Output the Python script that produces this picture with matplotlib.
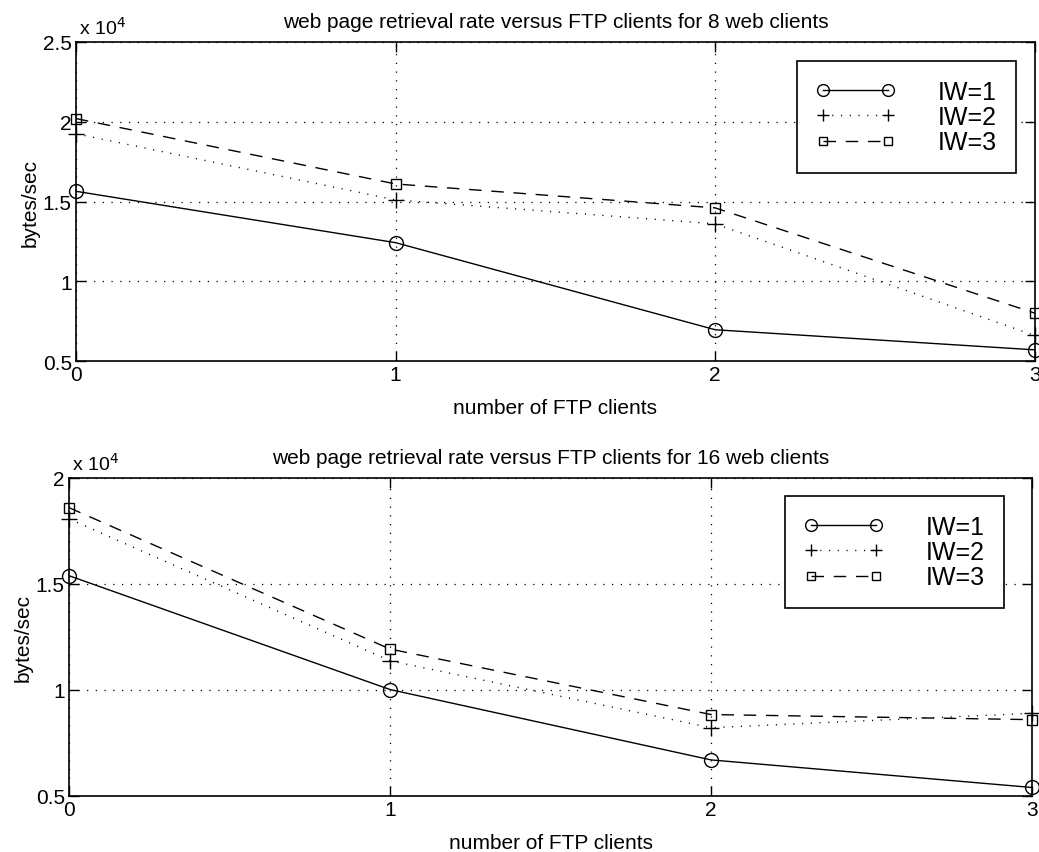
import matplotlib
matplotlib.use("Agg")
import matplotlib.pyplot as plt
import numpy as np

plt.rcParams["font.family"] = ["Liberation Sans", "DejaVu Sans"]

# web page retrieval rate (bytes/sec) for 0..3 FTP clients
ftp_clients = [0, 1, 2, 3]
iw_labels = ["IW=1", "IW=2", "IW=3"]

rate_8_web = {
    "IW=1": [15640, 12420, 6960, 5700],
    "IW=2": [19250, 15100, 13600, 6600],
    "IW=3": [20200, 16100, 14600, 8000],
}
rate_16_web = {
    "IW=1": [15390, 10020, 6700, 5400],
    "IW=2": [18070, 11380, 8220, 8900],
    "IW=3": [18600, 11930, 8840, 8600],
}

panel_titles = [
    "web page retrieval rate versus FTP clients for 8 web clients",
    "web page retrieval rate versus FTP clients for 16 web clients",
]
y_limits = [(0.5, 2.5), (0.5, 2.0)]
y_ticks = [[0.5, 1, 1.5, 2, 2.5], [0.5, 1, 1.5, 2]]
tick_text = {0.5: "0.5", 1: "1", 1.5: "1.5", 2: "2", 2.5: "2.5"}
scale = 1e4

styles = {
    "IW=1": dict(marker="o", ms=10, ls="-"),
    "IW=2": dict(marker="+", ms=11, ls=(0, (0.8, 5.5))),
    "IW=3": dict(marker="s", ms=7.5, ls=(0, (9, 7))),
}

fig = plt.figure(figsize=(10.39, 8.53), dpi=100)
axes_rects = [
    [0.0731, 0.5756, 0.9229, 0.3740],
    [0.0664, 0.0657, 0.9269, 0.3728],
]
legend_anchor = [(0.980, 0.940), (0.971, 0.943)]

for k, data in enumerate([rate_8_web, rate_16_web]):
    ax = fig.add_axes(axes_rects[k])
    for name in iw_labels:
        vals = np.asarray(data[name], dtype=float) / scale
        st = styles[name]
        ax.plot(ftp_clients, vals, color="black", lw=1.0, ls=st["ls"],
                marker=st["marker"], ms=st["ms"], mfc="none", mec="black",
                mew=1.0, label=name, clip_on=False, zorder=3)

    ax.set_xlim(0, 3)
    ax.set_ylim(*y_limits[k])
    ax.set_xticks(ftp_clients)
    ax.set_xticklabels([str(v) for v in ftp_clients])
    ax.set_yticks(y_ticks[k])
    ax.set_yticklabels([tick_text[v] for v in y_ticks[k]])
    ax.grid(True, color="black", ls=(0, (1, 6)), lw=0.9)
    ax.tick_params(direction="in", which="both", top=True, right=True,
                   length=7, width=1.0, labelsize=15, pad=3)
    for sp in ax.spines.values():
        sp.set_linewidth(1.2)

    ax.set_title(panel_titles[k], fontsize=15, pad=11)
    ax.set_xlabel("number of FTP clients", fontsize=15, labelpad=10)
    ax.set_ylabel("bytes/sec", fontsize=15, labelpad=2)
    ax.text(0.003, 1.012, r"x 10$^4$", transform=ax.transAxes,
            fontsize=14, ha="left", va="bottom")

    leg = ax.legend(loc="upper right", bbox_to_anchor=legend_anchor[k],
                    numpoints=2, handlelength=3.2, handletextpad=1.7,
                    fontsize=18, fancybox=False, framealpha=1,
                    edgecolor="black", borderpad=0.75, labelspacing=0.05,
                    borderaxespad=0, markerscale=0.85)
    leg.get_frame().set_linewidth(1.2)

fig.savefig("out.png", dpi=100)
